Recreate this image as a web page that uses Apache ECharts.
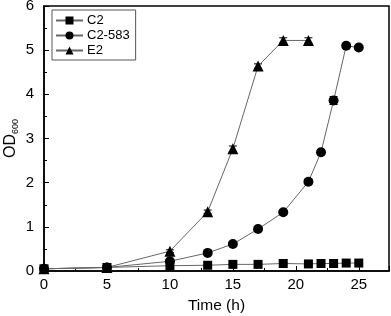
<!DOCTYPE html>
<html>
<head>
<meta charset="utf-8">
<script src="https://cdn.jsdelivr.net/npm/echarts@6/dist/echarts.min.js"></script>
<style>
  html, body { margin: 0; padding: 0; background: #fff; }
  #main { width: 391px; height: 316px; }
</style>
</head>
<body>
<div id="main"></div>
<script>
// time points (h) and OD600 readings
var timeC2 = [0, 5, 10, 13, 15, 17, 19, 21, 22, 23, 24, 25];
var odC2 = [0.05, 0.08, 0.12, 0.13, 0.15, 0.15, 0.17, 0.16, 0.17, 0.17, 0.18, 0.18];
var errC2 = [0.02, 0.02, 0.02, 0.02, 0.02, 0.02, 0.02, 0.02, 0.02, 0.02, 0.02, 0.02];

var timeC2583 = [0, 5, 10, 13, 15, 17, 19, 21, 22, 23, 24, 25];
var odC2583 = [0.05, 0.08, 0.22, 0.41, 0.61, 0.95, 1.33, 2.02, 2.69, 3.86, 5.10, 5.06];
var errC2583 = [0.02, 0.02, 0.03, 0.03, 0.03, 0.04, 0.04, 0.05, 0.06, 0.09, 0.05, 0.03];

var timeE2 = [0, 5, 10, 13, 15, 17, 19, 21];
var odE2 = [0.05, 0.08, 0.45, 1.34, 2.77, 4.64, 5.22, 5.22];
var errE2 = [0.02, 0.02, 0.03, 0.04, 0.06, 0.05, 0.06, 0.06];

var yTicks = [0, 1, 2, 3, 4, 5, 6];
var xTicks = [0, 5, 10, 15, 20, 25];

function pairs(xs, ys) {
    return xs.map(function (x, i) { return [x, ys[i]]; });
}
function errPairs(xs, ys, es) {
    return xs.map(function (x, i) { return [x, ys[i] - es[i], ys[i] + es[i]]; });
}

function errorBar(params, api) {
    var x = api.value(0);
    var lo = api.coord([x, api.value(1)]);
    var hi = api.coord([x, api.value(2)]);
    var w = 4;
    var st = { stroke: '#000', lineWidth: 1 };
    return {
        type: 'group',
        children: [
            { type: 'line', shape: { x1: lo[0], y1: lo[1], x2: hi[0], y2: hi[1] }, style: st },
            { type: 'line', shape: { x1: lo[0] - w, y1: lo[1], x2: lo[0] + w, y2: lo[1] }, style: st },
            { type: 'line', shape: { x1: hi[0] - w, y1: hi[1], x2: hi[0] + w, y2: hi[1] }, style: st }
        ]
    };
}

var font = "'Liberation Sans', Arial, sans-serif";

function lineSeries(name, symbol, size, xs, ys) {
    return {
        type: 'line',
        name: name,
        symbol: symbol,
        symbolSize: size,
        data: pairs(xs, ys),
        lineStyle: { color: '#666', width: 1 },
        itemStyle: { color: '#000' },
        z: 3
    };
}

var chart = echarts.init(document.getElementById('main'));
chart.setOption({
    animation: false,
    grid: {
        left: 44, top: 6, right: 2, bottom: 45,
        outerBoundsMode: 'none',
        containLabel: false,
        show: true, borderColor: '#000', borderWidth: 1.5, backgroundColor: 'transparent'
    },
    legend: {
        left: 52, top: 10,
        orient: 'vertical',
        borderColor: '#555', borderWidth: 1,
        padding: [4, 6, 3, 3],
        itemGap: 2,
        itemWidth: 27, itemHeight: 10,
        data: ['C2', 'C2-583', 'E2'],
        textStyle: { fontFamily: font, fontSize: 13, color: '#000', padding: [0, 0, 0, -1] }
    },
    xAxis: {
        type: 'value',
        min: 0, max: 27.4, interval: 5,
        name: 'Time (h)',
        nameLocation: 'middle',
        nameGap: 27,
        nameMoveOverlap: false,
        nameTextStyle: { fontFamily: font, fontSize: 15.5, color: '#000' },
        axisLine: { lineStyle: { color: '#000', width: 1.5 } },
        axisTick: { inside: true, length: 5, lineStyle: { color: '#000' } },
        minorTick: { show: true, splitNumber: 2, length: 3, lineStyle: { color: '#000' } },
        axisLabel: {
            fontFamily: font, fontSize: 15, color: '#000', margin: 6,
            showMaxLabel: false,
            formatter: function (v) { return xTicks.indexOf(v) >= 0 ? String(v) : ''; }
        },
        splitLine: { show: false }
    },
    yAxis: {
        type: 'value',
        min: 0, max: 6, interval: 1,
        name: '{a|OD}{b|600}',
        nameLocation: 'middle',
        nameRotate: 90,
        nameGap: 24,
        nameMoveOverlap: false,
        nameTextStyle: {
            fontFamily: font,
            fontSize: 16,
            color: '#000',
            rich: {
                a: { fontFamily: font, fontSize: 16, color: '#000' },
                b: { fontFamily: font, fontSize: 9, color: '#000', padding: [9, 0, 0, 0] }
            }
        },
        axisLine: { show: true, lineStyle: { color: '#000', width: 1.5 } },
        axisTick: { show: true, inside: true, length: 5, lineStyle: { color: '#000' } },
        minorTick: { show: true, splitNumber: 2, length: 3, lineStyle: { color: '#000' } },
        axisLabel: {
            fontFamily: font, fontSize: 15, color: '#000', margin: 10,
            formatter: function (v) { return yTicks.indexOf(v) >= 0 ? String(v) : ''; }
        },
        splitLine: { show: false }
    },
    series: [
        lineSeries('C2', 'rect', 9, timeC2, odC2),
        lineSeries('C2-583', 'circle', 10, timeC2583, odC2583),
        lineSeries('E2', 'triangle', 11, timeE2, odE2),
        { type: 'custom', renderItem: errorBar, data: errPairs(timeC2, odC2, errC2), encode: { x: 0, y: [1, 2] }, z: 2 },
        { type: 'custom', renderItem: errorBar, data: errPairs(timeC2583, odC2583, errC2583), encode: { x: 0, y: [1, 2] }, z: 2 },
        { type: 'custom', renderItem: errorBar, data: errPairs(timeE2, odE2, errE2), encode: { x: 0, y: [1, 2] }, z: 2 }
    ]
});
</script>
</body>
</html>
